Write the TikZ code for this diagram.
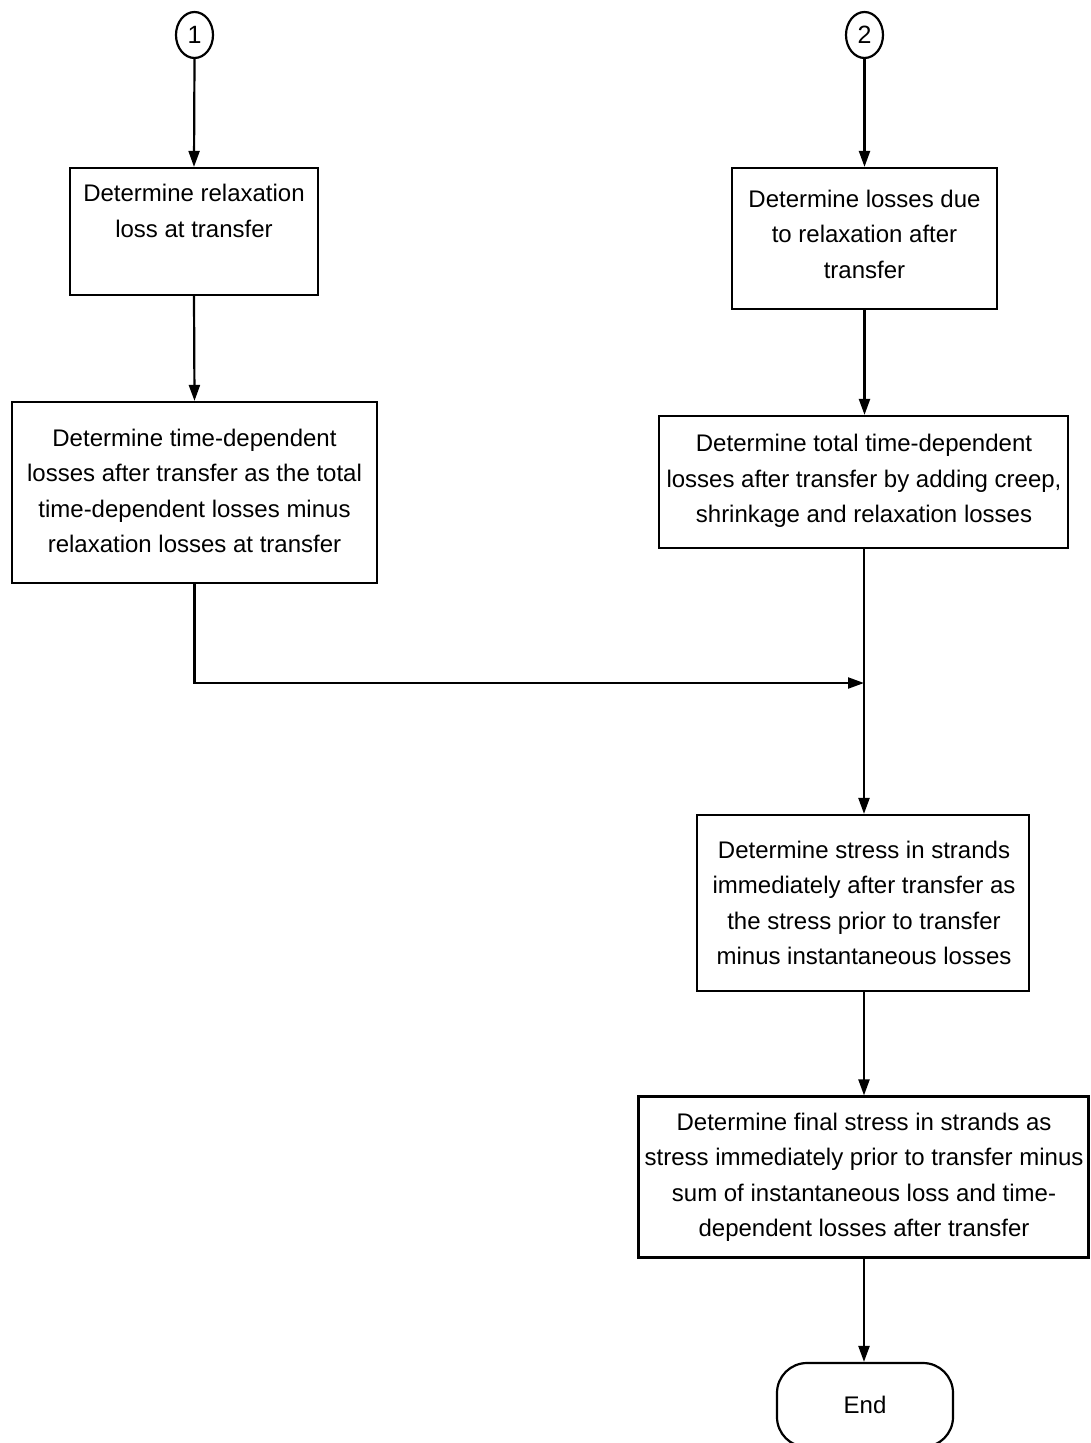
\documentclass[tikz,border=0pt]{standalone}
\usepackage{fontspec}
\setmainfont{Liberation Sans}
\usetikzlibrary{arrows.meta,shapes.geometric}
\tikzset{
  box/.style={draw, line width=2.2pt, rectangle, inner sep=0pt},
  txt/.style={align=center, inner sep=0pt, font=\fontsize{24}{35.5}\selectfont},
  conn/.style={draw, line width=2.2pt, -{Triangle[length=16pt,width=11pt]}},
  startc/.style={draw, line width=2.2pt, ellipse, inner sep=0pt, minimum width=37pt, minimum height=46pt, font=\fontsize{25}{28}\selectfont},
  term/.style={draw, line width=2.2pt, rectangle, rounded corners=30pt, minimum width=176pt, minimum height=84pt, inner sep=0pt}
}
\begin{document}
\begin{tikzpicture}[x=1pt,y=-1pt]
\useasboundingbox (0,0) rectangle (1090,1443);
% start circles
\node[startc] (s1) at (194.5,35) {1};
\node[startc] (s2) at (864.5,35) {2};
% boxes
\node[box, minimum width=248pt, minimum height=127pt] (A) at (194,231.5) {};
\node[txt] (tA) at (194,211) {Determine relaxation\\loss at transfer};
\node[box, minimum width=365pt, minimum height=181pt] (B) at (194.5,492.5) {};
\node[txt] (tB) at (194.5,491) {Determine time-dependent\\losses after transfer as the total\\time-dependent losses minus\\relaxation losses at transfer};
\node[box, minimum width=265pt, minimum height=141pt] (C) at (864.5,238.5) {};
\node[txt] (tC) at (864.5,234) {Determine losses due\\to relaxation after\\transfer};
\node[box, minimum width=409pt, minimum height=132pt] (D) at (863.5,482) {};
\node[txt] (tD) at (864,481) {Determine total time-dependent\\losses after transfer by adding creep,\\shrinkage and relaxation losses};
\node[box, minimum width=332pt, minimum height=176pt] (E) at (863,903) {};
\node[txt] (tE) at (864,903) {Determine stress in strands\\immediately after transfer as\\the stress prior to transfer\\minus instantaneous losses};
\node[box, minimum width=450pt, minimum height=161pt] (F) at (863.5,1177) {};
\node[txt] (tF) at (864,1177.5) {Determine final stress in strands as\\stress immediately prior to transfer minus\\sum of instantaneous loss and time-\\dependent losses after transfer};
\node[term] (End) at (865,1405) {};
\node[txt] (tEnd) at (865,1405) {End};
% connectors
\coordinate (m) at (864,683);
\draw[conn] (s1.south) -- (A.north);
\draw[conn] (A.south) -- (B.north);
\draw[conn] (s2.south) -- (C.north);
\draw[conn] (C.south) -- (D.north -| C.south);
\draw[conn] (B.south) |- (m);
\draw[conn] (D.south -| m) -- (E.north -| m);
\draw[conn] (E.south -| m) -- (F.north -| m);
\draw[conn] (F.south -| m) -- (End.north -| m);
\end{tikzpicture}
\end{document}
